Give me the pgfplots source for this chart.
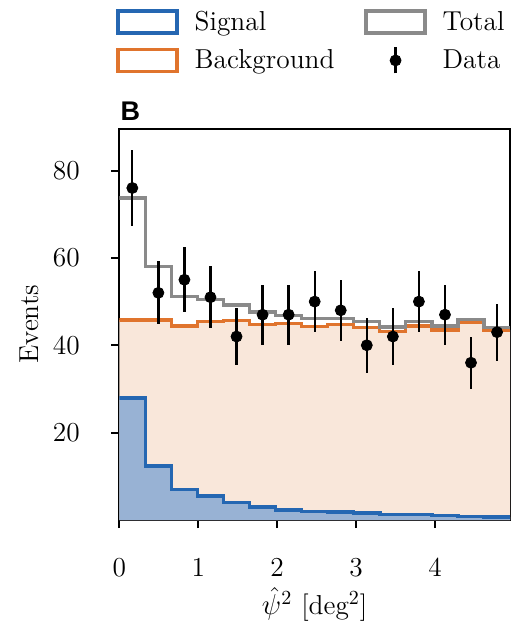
\documentclass[border=0pt]{standalone}
\usepackage{fontspec}
\usepackage{pgfplots}
\pgfplotsset{compat=1.18}
\newfontfamily\lsans{Liberation Sans}
\definecolor{sigline}{RGB}{37,103,178}
\definecolor{sigfill}{RGB}{152,178,212}
\definecolor{bkgline}{RGB}{224,116,45}
\definecolor{bkgfill}{RGB}{249,231,218}
\definecolor{totline}{RGB}{138,138,138}

% bin edges (left) and contents; last row repeats the final value at the right edge
\pgfplotstableread{
x     sig   bkg   tot
0.00  27.9  45.8  73.7
0.33  12.4  45.8  58.0
0.66  7.0   44.4  51.1
0.99  5.5   45.4  50.4
1.32  4.0   45.6  49.2
1.65  3.0   44.7  47.6
1.98  2.3   44.9  46.8
2.31  2.0   44.3  46.2
2.64  1.8   44.7  46.2
2.97  1.6   44.1  45.4
3.30  1.3   43.1  44.2
3.63  1.2   44.4  45.5
3.96  1.0   43.5  44.4
4.29  0.8   45.2  45.9
4.62  0.7   43.5  44.1
4.95  0.7   43.5  44.1
}\hist

\pgfplotstableread{
x      y   e
0.165  76  8.72
0.495  52  7.21
0.825  55  7.42
1.155  51  7.14
1.485  42  6.48
1.815  47  6.86
2.145  47  6.86
2.475  50  7.07
2.805  48  6.93
3.135  40  6.32
3.465  42  6.48
3.795  50  7.07
4.125  47  6.86
4.455  36  6.00
4.785  43  6.56
}\data

\begin{document}
\begin{tikzpicture}[font=\fontsize{13.7}{16.4}\selectfont]
\begin{axis}[
  scale only axis, width=195.4pt, height=195.7pt,
  xmin=0, xmax=4.95, ymin=0, ymax=89.6,
  /pgf/number format/assume math mode=true,
  axis line style={line width=1pt, black},
  tick style={line width=1pt, black},
  major tick length=4pt,
  tick align=outside,
  xtick pos=bottom, ytick pos=left,
  xtick={0,1,2,3,4}, ytick={20,40,60,80},
  xticklabel style={inner sep=0pt, anchor=north, yshift=-15pt},
  yticklabel style={inner sep=0pt, anchor=east, xshift=-15.6pt},
  xlabel={$\hat{\psi}^2$ [deg$^2$]},
  ylabel={Events},
  xlabel style={at={(axis description cs:0.5,0)}, anchor=south, inner sep=0pt, yshift=-51pt},
  ylabel style={at={(axis description cs:-0.2298,0.5)}, anchor=center, inner sep=0pt},
  legend columns=2,
  legend cell align=left,
  legend style={at={(rel axis cs:0,1)}, anchor=south west, xshift=-1.4pt, yshift=27pt,
    draw=none, fill=none, inner sep=0pt, outer sep=0pt,
    nodes={inner sep=0pt},
    row sep=5.8pt, column sep=8pt,
    /tikz/every even column/.append style={column sep=15pt}},
]
\addplot[const plot, draw=none, fill=bkgfill, forget plot] table[x=x, y=bkg] {\hist} \closedcycle;
\addplot[const plot, draw=none, fill=sigfill, forget plot] table[x=x, y=sig] {\hist} \closedcycle;
\addplot[const plot, bkgline, line width=1.6pt, forget plot] table[x=x, y=bkg] {\hist};
\addplot[const plot, sigline, line width=1.7pt, forget plot] table[x=x, y=sig] {\hist};
\addplot[const plot, totline, line width=1.6pt, forget plot] table[x=x, y=tot] {\hist};
\addplot[only marks, mark=*, mark size=2.75pt, black, forget plot,
  error bars/.cd, y dir=both, y explicit, error mark=none,
  error bar style={line width=1.15pt, black}]
  table[x=x, y=y, y error=e] {\data};

\addlegendimage{legend image code/.code={\draw[draw=sigline, line width=1.6pt] (0pt,-5.5pt) rectangle (29.5pt,5.5pt);}}
\addlegendentry{Signal}
\addlegendimage{legend image code/.code={\draw[draw=totline, line width=1.6pt] (0pt,-5.5pt) rectangle (29.5pt,5.5pt);}}
\addlegendentry{Total}
\addlegendimage{legend image code/.code={\draw[draw=bkgline, line width=1.6pt] (0pt,-5.5pt) rectangle (29.5pt,5.5pt);}}
\addlegendentry{Background}
\addlegendimage{legend image code/.code={\path[draw=none, fill=none] (-0.8pt,0pt) rectangle (30.3pt,0.1pt); \draw[black, line width=1.15pt] (14.75pt,-6.5pt) -- (14.75pt,6.5pt); \fill[black] (14.75pt,0pt) circle (2.75pt);}}
\addlegendentry{Data}
\end{axis}
\node[anchor=base west, inner sep=0pt, font=\lsans\bfseries\fontsize{13.5}{16}\selectfont] at ([xshift=0.5pt,yshift=4pt]current axis.north west) {B};
\pgfresetboundingbox
\path[use as bounding box] ([shift={(-59.65pt,-53.5pt)}]current axis.south west) rectangle ([shift={(201.85pt,260pt)}]current axis.south west);
\end{tikzpicture}
\end{document}
